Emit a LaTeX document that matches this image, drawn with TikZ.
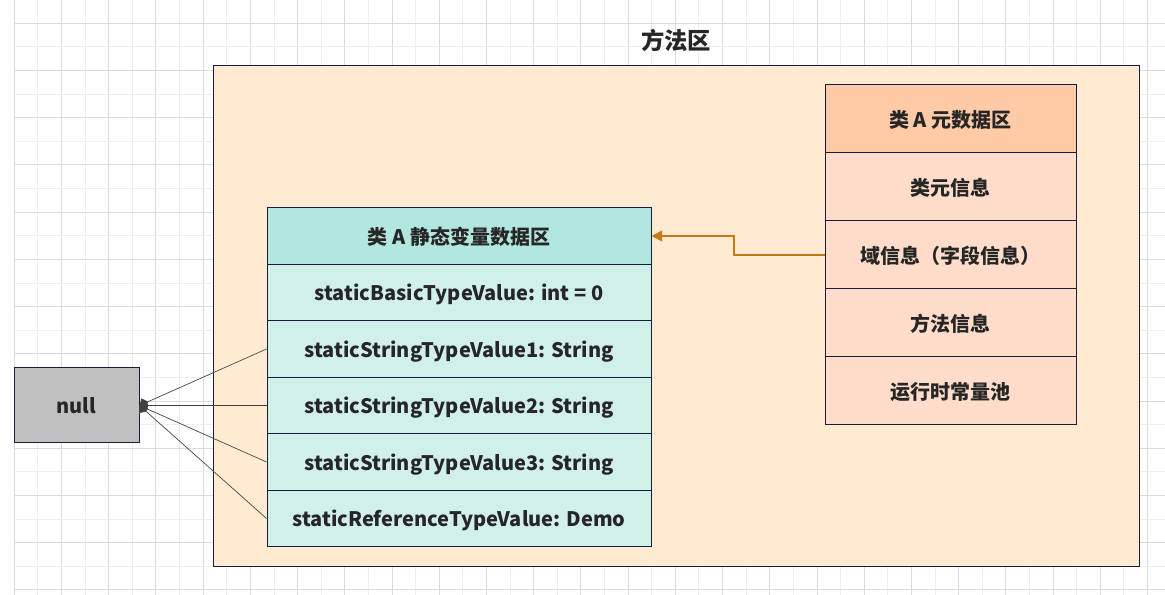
\documentclass[tikz,border=0pt]{standalone}
\usepackage{fontspec}
\setmainfont{Noto Sans CJK SC}
\usetikzlibrary{arrows.meta}

\definecolor{boxline}{HTML}{1B1A40}
\definecolor{areafill}{HTML}{FFEBD2}
\definecolor{metahead}{HTML}{FFCBA6}
\definecolor{metarow}{HTML}{FFDDCA}
\definecolor{statichead}{HTML}{B2E7DF}
\definecolor{staticrow}{HTML}{D0F0E9}
\definecolor{nullfill}{HTML}{C0C0C0}
\definecolor{refline}{HTML}{C77917}
\definecolor{gridminor}{HTML}{EEEEEE}
\definecolor{gridmajor}{HTML}{DCDCDC}

\begin{document}
\begin{tikzpicture}[x=0.75pt, y=-0.75pt,
	cell/.style={draw=boxline, line width=0.75pt, inner sep=0pt, text depth=0pt,
		font=\fontsize{15}{18}\selectfont\bfseries, text=black!85},
	staticcell/.style={cell, fill=staticrow, minimum width=384*0.75pt, minimum height=56.5*0.75pt},
	metacell/.style={cell, fill=metarow, minimum width=251*0.75pt, minimum height=68*0.75pt},
	link/.style={draw=black!75, line width=0.5pt}]
\useasboundingbox (0,0) rectangle (1165,595);

% grid
\foreach \i in {0,...,48} {
	\pgfmathsetmacro{\gx}{14.3+23.61*\i}
	\pgfmathparse{mod(\i,2)==0 ? "gridmajor" : "gridminor"}
	\draw [\pgfmathresult, line width=0.75pt] (\gx,0) -- (\gx,595);
}
\foreach \i in {0,...,25} {
	\pgfmathsetmacro{\gy}{-0.3+23.61*\i}
	\pgfmathparse{mod(\i,2)==1 ? "gridmajor" : "gridminor"}
	\draw [\pgfmathresult, line width=0.75pt] (14.3,\gy) -- (1165,\gy);
}

% method area
\node (area) at (676,316) [draw=boxline, line width=0.75pt, fill=areafill,
	minimum width=926*0.75pt, minimum height=500*0.75pt] {};
\node (title) at (676,40) [font=\fontsize{17.5}{20}\selectfont\bfseries, text=black!85] {方法区};

% class A static data
\node (s0) at (459,236) [staticcell, fill=statichead] {类 A 静态变量数据区};
\foreach \n / \txt [count=\k] in {s1/staticBasicTypeValue: int = 0,
	s2/staticStringTypeValue1: String,
	s3/staticStringTypeValue2: String,
	s4/staticStringTypeValue3: String,
	s5/staticReferenceTypeValue: Demo}
	\node (\n) at (459,236+56.5*\k) [staticcell] {\txt};

% class A metadata
\node (m0) at (950.5,119) [metacell, fill=metahead] {类 A 元数据区};
\foreach \n / \txt [count=\k] in {m1/类元信息, m2/域信息（字段信息）, m3/方法信息, m4/运行时常量池}
	\node (\n) at (950.5,119+68*\k) [metacell] {\txt};

% null
\node (null) at (76.5,405.5) [cell, fill=nullfill, minimum width=125*0.75pt, minimum height=75*0.75pt] {null};

\foreach \n in {s2,s3,s4,s5}
	\draw [link, {Diamond[length=7pt,width=8.5pt]}-] (null.east) -- (\n.west);

\draw [draw=refline, line width=1.5pt, -{Triangle[length=8pt,width=8pt]}]
	(m2.west) -- (734,255) -- (734,236) -- (s0.east);
\end{tikzpicture}
\end{document}
